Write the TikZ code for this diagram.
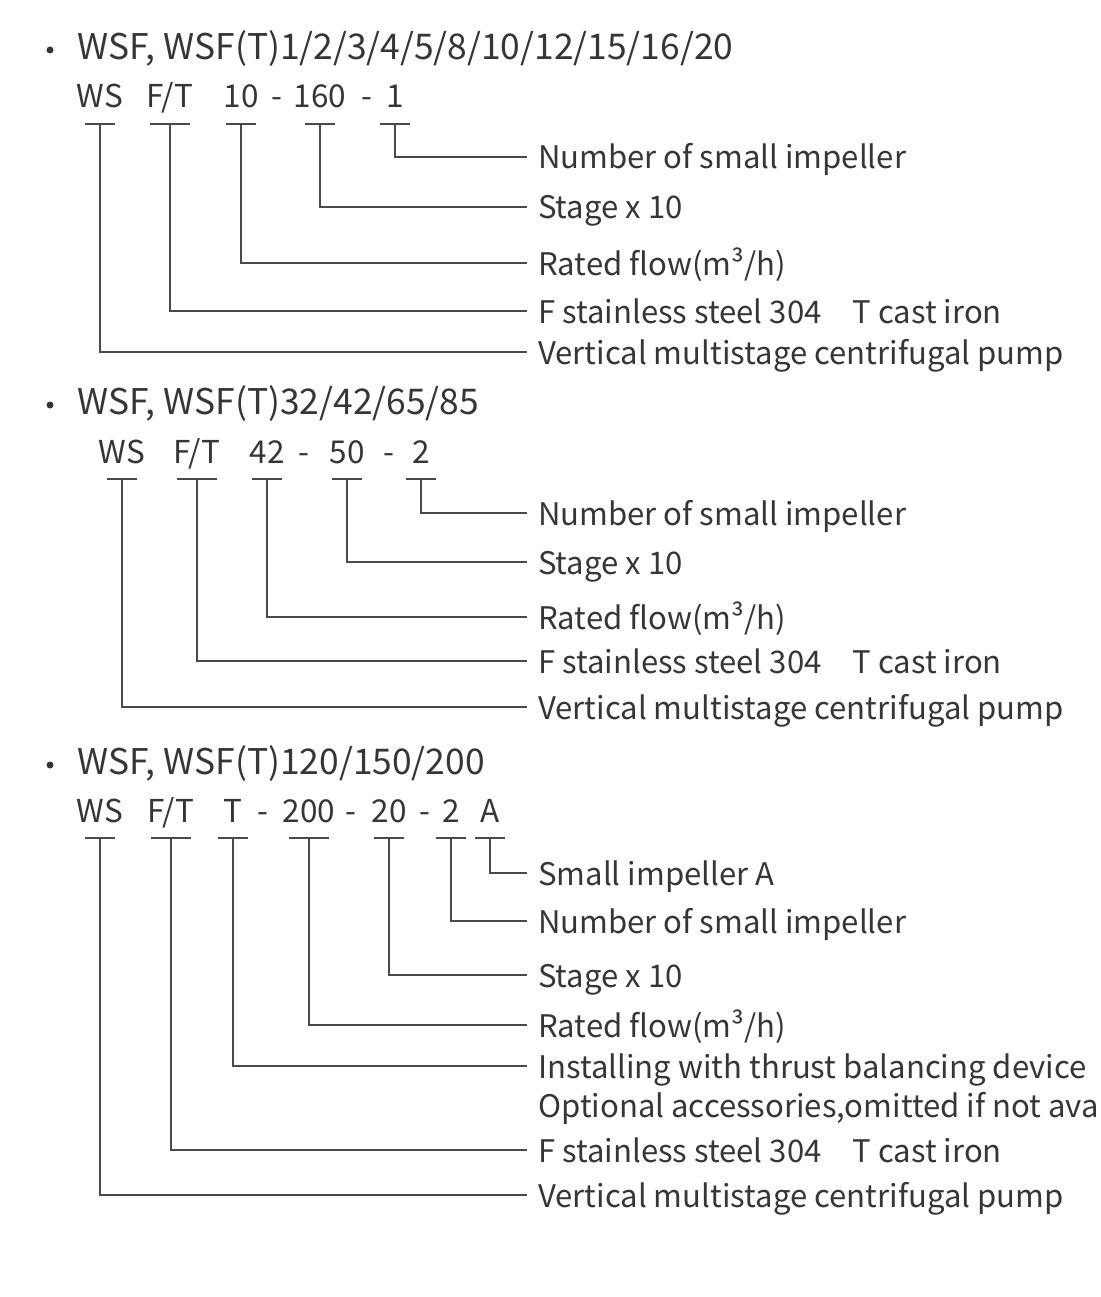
\documentclass[tikz,border=0pt]{standalone}
\usepackage{fontspec}
\setmainfont{Noto Sans CJK SC}
\usepackage{xcolor}
\definecolor{ink}{HTML}{363636}
\definecolor{wire}{HTML}{4A4A4A}

\begin{document}
\begin{tikzpicture}[x=1pt,y=-1pt,
    every node/.style={text=ink},
    head/.style={anchor=base west,inner sep=0,font=\fontsize{35.4}{40}\selectfont},
    dot/.style={circle,fill=ink,inner sep=0,minimum size=7pt},
    code/.style={anchor=base,inner sep=0,text depth=16pt,font=\fontsize{31.5}{36}\selectfont},
    desc/.style={anchor=west,inner xsep=11pt,inner ysep=0,text height=26pt,text depth=2pt,font=\fontsize{31.1}{36}\selectfont},
    tick/.style={draw=wire,line width=1.5pt},
    lead/.style={draw=wire,line width=1.5pt}]
   \useasboundingbox (0,0) rectangle (1100,1297);

   % WSF 1...20
   \node[dot] (b1) at (50,50) {};
   \node[head] (h1) at (77,60) {WSF, WSF(T)1/2/3/4/5/8/10/12/15/16/20};
   \foreach \n/\x/\t in {ws/100/WS, ft/170/{F/T}, fl/241/10, d1/277/-, st/320/160, d2/367/-, im/395/1}
     \node[code] (A\n) at (\x,108) {\t};
   \foreach \n/\w/\y/\l in {im/15/157/Number of small impeller, st/15/207/Stage x 10,
       fl/15/263/{Rated flow(m³/h)}, ft/20/311/{F stainless steel 304\quad T cast iron},
       ws/15/352/Vertical multistage centrifugal pump} {
     \node[desc] (LA\n) at (527,\y) {\l};
     \draw[tick] ([xshift=-\w pt]A\n.south) -- ([xshift=\w pt]A\n.south);
     \draw[lead] (A\n.south) |- (LA\n.west);
   }

   % WSF 32...85
   \node[dot] (b2) at (50,405) {};
   \node[head] (h2) at (77,414) {WSF, WSF(T)32/42/65/85};
   \foreach \n/\x/\t in {ws/122/WS, ft/197/{F/T}, fl/267/42, d1/304/-, st/347/50, d2/389/-, im/421/2}
     \node[code] (B\n) at (\x,463) {\t};
   \foreach \n/\w/\y/\l in {im/15/513/Number of small impeller, st/15/562/Stage x 10,
       fl/15/617/{Rated flow(m³/h)}, ft/20/661/{F stainless steel 304\quad T cast iron},
       ws/15/707/Vertical multistage centrifugal pump} {
     \node[desc] (LB\n) at (527,\y) {\l};
     \draw[tick] ([xshift=-\w pt]B\n.south) -- ([xshift=\w pt]B\n.south);
     \draw[lead] (B\n.south) |- (LB\n.west);
   }

   % WSF 120...200
   \node[dot] (b3) at (50,765) {};
   \node[head] (h3) at (77,774) {WSF, WSF(T)120/150/200};
   \foreach \n/\x/\t in {ws/100/WS, ft/171/{F/T}, th/233/T, d1/263/-, fl/309/200, d2/351/-,
       st/389/20, d3/425/-, im/451/2, sa/490/A}
     \node[code] (C\n) at (\x,822) {\t};
   \foreach \n/\w/\y/\l in {sa/15/873/Small impeller A, im/15/921/Number of small impeller,
       st/15/975/Stage x 10, fl/20/1025/{Rated flow(m³/h)},
       th/15/1066/Installing with thrust balancing device,
       ft/20/1150/{F stainless steel 304\quad T cast iron},
       ws/15/1195/Vertical multistage centrifugal pump} {
     \node[desc] (LC\n) at (527,\y) {\l};
     \draw[tick] ([xshift=-\w pt]C\n.south) -- ([xshift=\w pt]C\n.south);
     \draw[lead] (C\n.south) |- (LC\n.west);
   }
   \node[desc] (LCop) at (527,1105) {Optional accessories,omitted if not ava};
\end{tikzpicture}
\end{document}
